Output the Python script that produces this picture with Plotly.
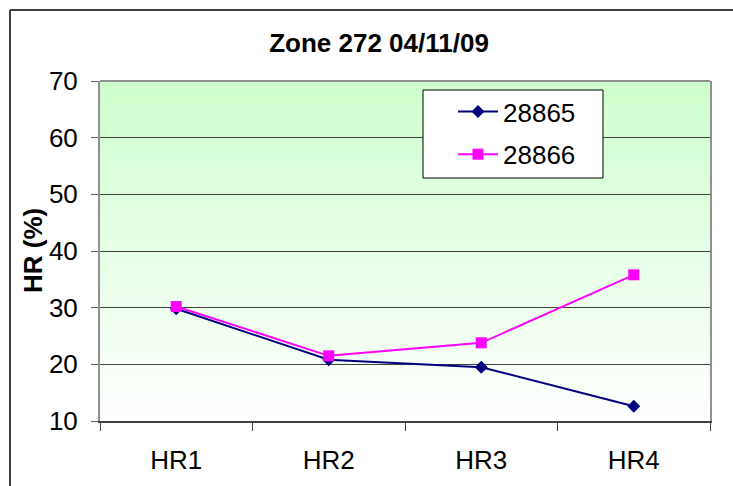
import plotly.graph_objects as go

categories = ["HR1", "HR2", "HR3", "HR4"]
series_names = ["28865", "28866"]
values_28865 = [29.8, 20.8, 19.5, 12.6]
values_28866 = [30.2, 21.5, 23.8, 35.8]
y_ticks = [10, 20, 30, 40, 50, 60, 70]

W, H = 733, 486
L, R, T, B = 100, 710, 81, 421

def px_x(p):
    return (p - L) / (R - L)

def px_y(p):
    return 1 - (p - T) / (B - T)

fig = go.Figure()
fig.add_trace(go.Scatter(
    x=categories, y=values_28865, name=series_names[0], mode="lines+markers",
    line=dict(color="#000080", width=2),
    marker=dict(symbol="diamond", size=10, color="#000080"),
    legendgroup="a"))
fig.add_trace(go.Scatter(
    x=categories, y=values_28866, name=series_names[1], mode="lines+markers",
    line=dict(color="#FF00FF", width=2),
    marker=dict(symbol="square", size=11, color="#FF00FF"),
    legendgroup="b"))

shapes = []
# gradient background
n = 60
for i in range(n):
    f = (i + 0.5) / n  # 0 bottom, 1 top
    r = round(255 - (255 - 204) * f)
    b = round(255 - (255 - 204) * f)
    shapes.append(dict(type="rect", xref="x domain", yref="y domain",
                       x0=0, x1=1, y0=i / n, y1=(i + 1) / n,
                       fillcolor=f"rgb({r},255,{b})", line=dict(width=0),
                       layer="below"))
# plot top border
shapes.append(dict(type="line", xref="paper", yref="paper", x0=0, x1=1, y0=1, y1=1,
                   line=dict(color="#909090", width=2), layer="above"))
# outer chart border (left and top)
shapes.append(dict(type="line", xref="paper", yref="paper",
                   x0=px_x(10), x1=px_x(10), y0=px_y(10), y1=px_y(500),
                   line=dict(color="#404040", width=2)))
shapes.append(dict(type="line", xref="paper", yref="paper",
                   x0=px_x(10), x1=px_x(760), y0=px_y(10), y1=px_y(10),
                   line=dict(color="#404040", width=2)))
# legend box
shapes.append(dict(type="rect", xref="paper", yref="paper",
                   x0=px_x(423), x1=px_x(603), y0=px_y(178), y1=px_y(90),
                   fillcolor="white", line=dict(color="black", width=1), layer="above"))
fig.update_layout(shapes=shapes)

font_family = "Liberation Sans, Arial, sans-serif"
FS = 26

fig.add_annotation(text="<b>HR (%)</b>", xref="paper", yref="paper",
                   x=px_x(33), y=px_y(251), xanchor="center", yanchor="middle",
                   textangle=-90, showarrow=False,
                   font=dict(size=FS, family=font_family, color="black"))

fig.update_layout(
    width=W, height=H,
    margin=dict(l=L, r=W - R, t=T, b=H - B),
    paper_bgcolor="white", plot_bgcolor="white",
    font=dict(family=font_family, color="black"),
    title=dict(text="<b>Zone 272 04/11/09</b>", xref="container", yref="container",
               x=379 / W, y=1 - 43 / H, xanchor="center", yanchor="middle",
               font=dict(size=FS, family=font_family, color="black")),
    showlegend=True,
    legend=dict(x=px_x(453), y=px_y(88), xanchor="left", yanchor="top",
                bgcolor="rgba(0,0,0,0)", borderwidth=0,
                font=dict(size=FS, family=font_family, color="black"),
                traceorder="grouped", tracegroupgap=6, itemwidth=40),
    xaxis=dict(type="category", range=[-0.5, 3.5], tickson="boundaries",
               ticks="outside", ticklen=8, tickwidth=1, tickcolor="#404040",
               showline=True, linecolor="#404040", linewidth=2,
               showgrid=False, zeroline=False,
               tickfont=dict(size=FS, family=font_family, color="black"),
               ticklabelstandoff=15),
    yaxis=dict(range=[10, 70], tickvals=y_ticks, ticktext=[str(v) for v in y_ticks],
               ticks="outside", ticklen=7, tickwidth=1, tickcolor="#606060",
               showline=True, linecolor="#909090", linewidth=2, mirror=True,
               showgrid=True, gridcolor="#404040", gridwidth=1, zeroline=False,
               tickfont=dict(size=FS, family=font_family, color="black"),
               ticklabelstandoff=8),
)

fig.write_html("out.html", config={"displayModeBar": False},
               post_script="document.body.style.margin='0px';document.body.style.overflow='hidden';")
